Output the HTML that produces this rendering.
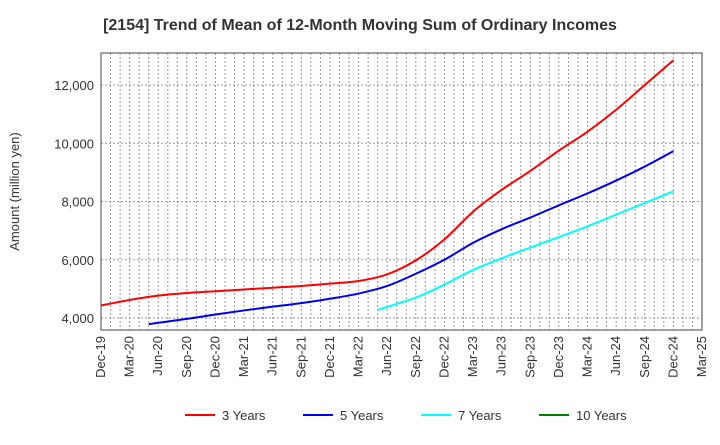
<!DOCTYPE html>
<html><head><meta charset="utf-8"><style>
body{margin:0;background:#fff;font-family:"Liberation Sans",Arial,sans-serif}
</style></head><body>
<svg id="c" width="720" height="440" xmlns="http://www.w3.org/2000/svg"></svg>
<script>
const xLabels=["Dec-19","Mar-20","Jun-20","Sep-20","Dec-20","Mar-21","Jun-21","Sep-21","Dec-21","Mar-22","Jun-22","Sep-22","Dec-22","Mar-23","Jun-23","Sep-23","Dec-23","Mar-24","Jun-24","Sep-24","Dec-24","Mar-25"];
const yTicks=[4000,6000,8000,10000,12000];
const m3=[0,3,6,9,12,15,18,21,24,27,30,33,36,39,42,45,48,51,54,57,60];
const s3=[4430,4620,4770,4860,4920,4980,5040,5100,5180,5270,5500,5980,6700,7650,8400,9050,9750,10400,11150,12000,12850];
const m5=[5,9,12,15,18,21,24,27,30,33,36,39,42,45,48,51,54,57,60];
const s5=[3790,3970,4120,4260,4390,4510,4660,4840,5100,5520,6000,6580,7050,7450,7870,8280,8720,9200,9730];
const m7=[29,33,36,39,42,45,48,51,54,57,60];
const s7=[4280,4700,5150,5650,6050,6420,6780,7150,7550,7950,8350];
const m10=[];
const s10=[];
const svg=document.getElementById('c');const NS="http://www.w3.org/2000/svg";
const L=101,R=702,T=53,B=330,YMIN=3588,YMAX=13100;
const x=q=>L+(R-L)*q/21, xm=m=>L+(R-L)*m/63;
const y=v=>B-(v-YMIN)/(YMAX-YMIN)*(B-T);
function el(t,a,p){const e=document.createElementNS(NS,t);for(const k in a)e.setAttribute(k,a[k]);(p||svg).appendChild(e);return e;}
let t=el('text',{x:360,y:30,'text-anchor':'middle','font-size':16,'font-weight':'bold',fill:'#333'});t.textContent="[2154]  Trend of Mean of 12-Month Moving Sum of Ordinary Incomes";

for(let m=1;m<63;m++){const g=el('line',{x1:xm(m),x2:xm(m),y1:T,y2:B,stroke:'#999','stroke-dasharray':'2,2','stroke-width':1});
}
yTicks.forEach(v=>{const g=el('line',{x1:L,x2:R,y1:y(v),y2:y(v),stroke:'#999','stroke-dasharray':'2,2'});

const tx=el('text',{x:L-7,y:y(v)+5,'text-anchor':'end','font-size':13,fill:'#333'});tx.textContent=v.toLocaleString('en-US');
});
xLabels.forEach((s,i)=>{const tx=el('text',{transform:`translate(${x(i)+4},${B+6}) rotate(-90)`,'text-anchor':'end','font-size':13,fill:'#333'});tx.textContent=s;
});
const fr=el('rect',{x:L,y:T,width:R-L,height:B-T,fill:'none',stroke:'#444','stroke-width':1});

const yt=el('text',{transform:`translate(19,${(T+B)/2}) rotate(-90)`,'text-anchor':'middle','font-size':13,fill:'#333'});yt.textContent="Amount (million yen)";

function series(ms,d,c,n){const pts=d.map((v,i)=>[xm(ms[i]),y(v)]);if(!pts.length)return;
let s=`M${pts[0][0]},${pts[0][1]}`;for(let i=1;i<pts.length;i++){const p0=pts[i-2]||pts[i-1],p1=pts[i-1],p2=pts[i],p3=pts[i+1]||p2;
s+=` C${p1[0]+(p2[0]-p0[0])/6},${p1[1]+(p2[1]-p0[1])/6} ${p2[0]-(p3[0]-p1[0])/6},${p2[1]-(p3[1]-p1[1])/6} ${p2[0]},${p2[1]}`;}
const p=el('path',{d:s,fill:'none',stroke:c,'stroke-width':2});}
series(m3,s3,'#ff0000','line-3-years');series(m5,s5,'#0000ee','line-5-years');series(m7,s7,'#00ffff','line-7-years');series(m10,s10,'#008000','line-10-years');
[['3 Years','#ff0000',185],['5 Years','#0000ee',303],['7 Years','#00ffff',421],['10 Years','#008000',539]].forEach(([n,c,lx])=>{
const g=el('g',{});
el('line',{x1:lx,x2:lx+30,y1:415,y2:415,stroke:c,'stroke-width':2},g);
const tx=el('text',{x:lx+37,y:420,'font-size':13,fill:'#333'},g);tx.textContent=n;});
</script>
</body></html>
